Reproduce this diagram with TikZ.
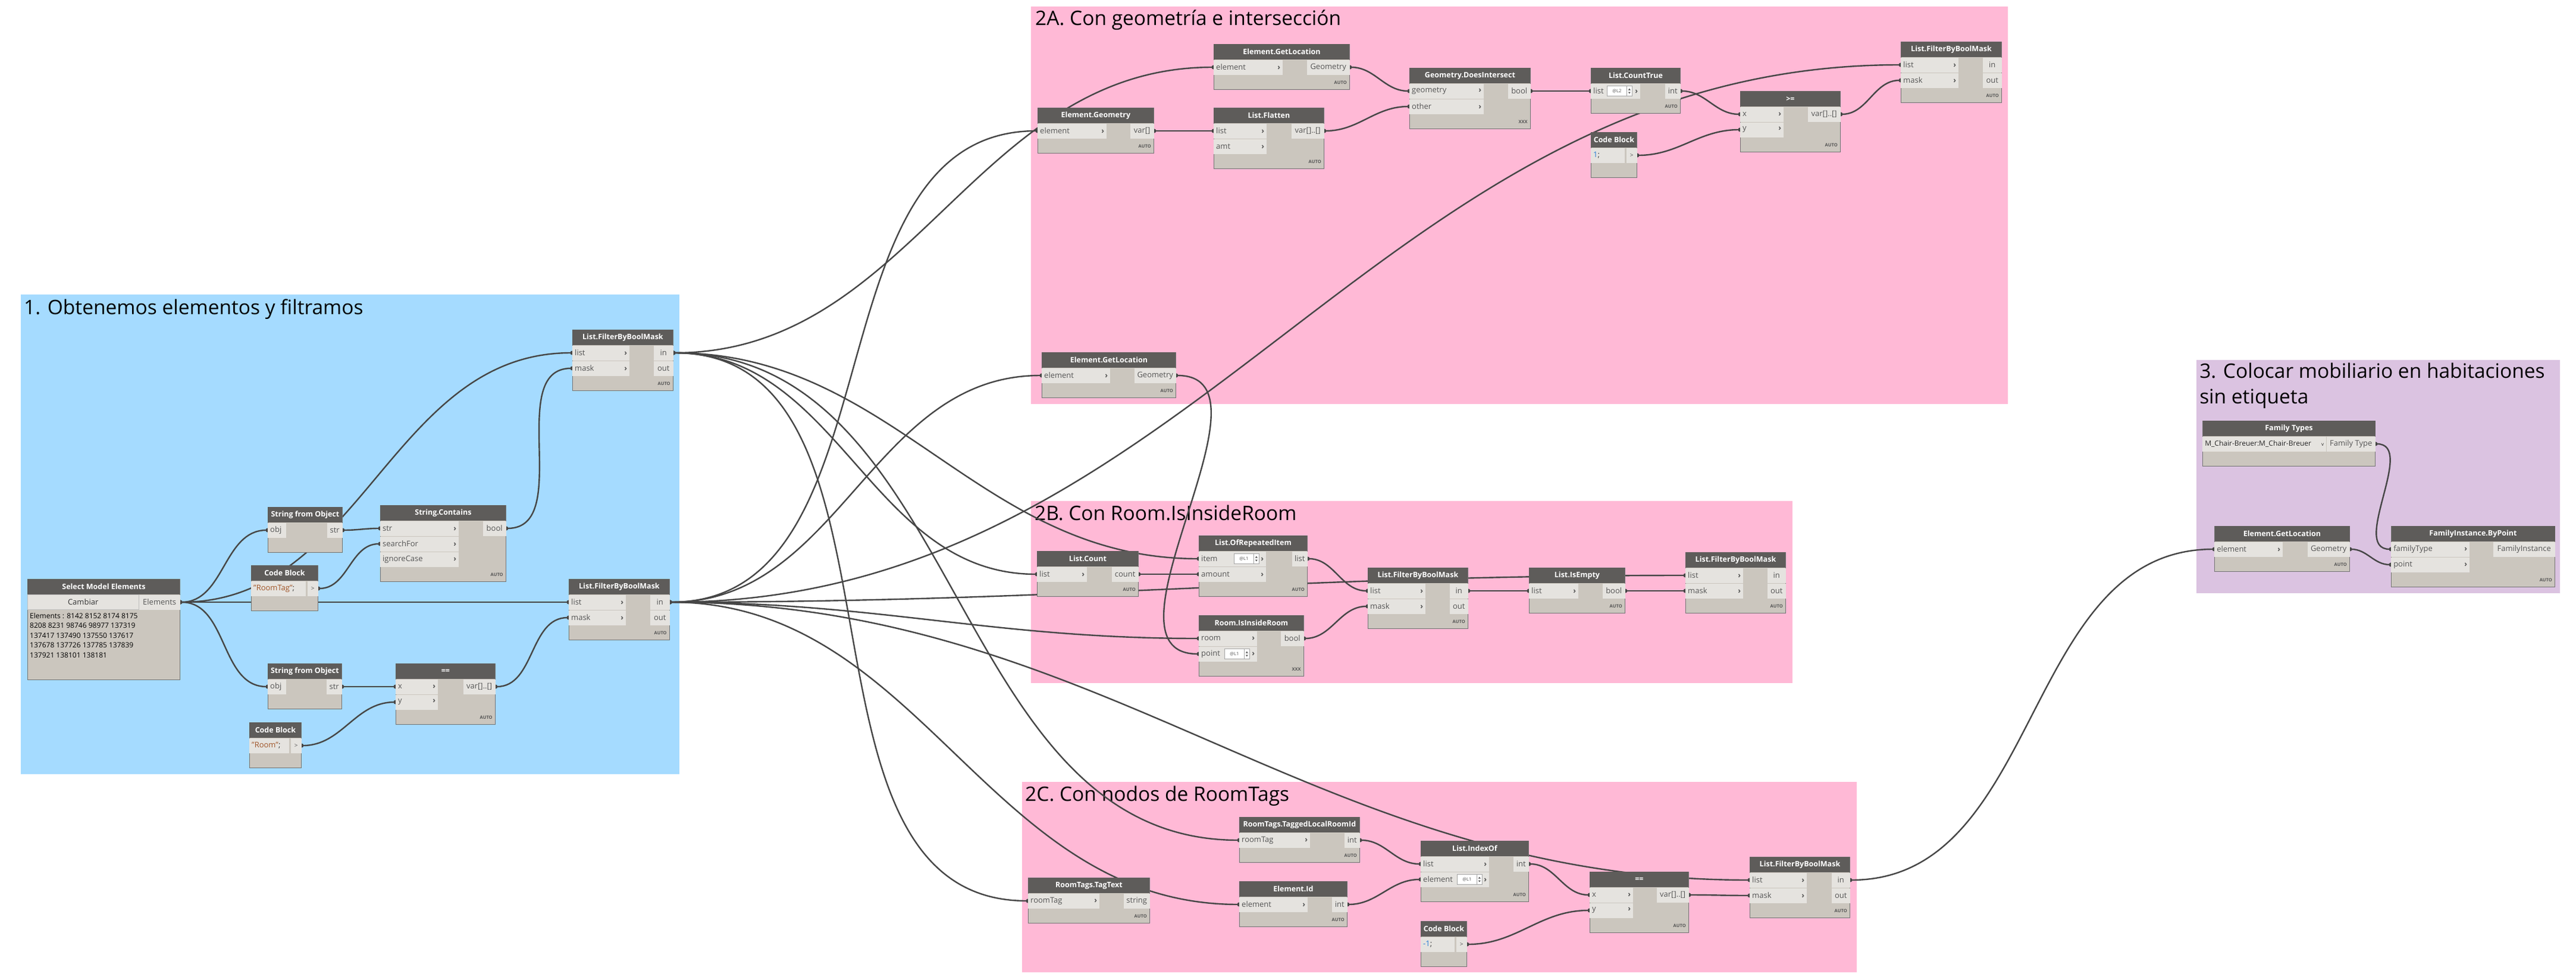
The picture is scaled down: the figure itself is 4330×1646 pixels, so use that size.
\documentclass[tikz,border=0pt]{standalone}
\usepackage{fontspec}
\setmainfont{Open Sans}
\usetikzlibrary{arrows.meta,calc}

\definecolor{grpblue}{RGB}{165,219,255}
\definecolor{grppink}{RGB}{255,185,214}
\definecolor{grplila}{RGB}{219,195,225}
\definecolor{hdrgray}{RGB}{94,92,90}
\definecolor{bodygray}{RGB}{203,198,190}
\definecolor{portgray}{RGB}{229,227,223}
\definecolor{wiregray}{RGB}{70,70,70}
\definecolor{txtgray}{RGB}{85,85,85}
\definecolor{strbrown}{RGB}{160,85,40}
\definecolor{numblue}{RGB}{40,125,215}

\pgfdeclarelayer{groups}
\pgfdeclarelayer{wires}
\pgfsetlayers{groups,wires,main}

\tikzset{
  dbody/.style={draw=black!55, line width=0.9pt, fill=bodygray, anchor=north west, inner sep=0pt},
  dhead/.style={fill=hdrgray, anchor=north, minimum height=26pt, inner sep=0pt, text=white,
    font=\fontsize{12.5}{14}\selectfont\bfseries},
  inrow/.style={fill=portgray, anchor=west, minimum height=25pt, inner xsep=4pt, inner ysep=0pt,
    text=txtgray, align=left, font=\fontsize{13}{15}\selectfont},
  outrow/.style={fill=portgray, anchor=east, minimum height=25pt, minimum width=26pt, inner xsep=4pt,
    inner ysep=0pt, text=txtgray, font=\fontsize{13}{15}\selectfont},
  lacing/.style={anchor=east, inner sep=0pt, text=txtgray, font=\fontsize{7.5}{8}\selectfont\bfseries},
  lvlbox/.style={anchor=west, fill=white, draw=black!35, line width=0.6pt, minimum width=33pt,
    minimum height=17pt, inner sep=0pt, text=txtgray, font=\fontsize{7.5}{8}\selectfont},
  spin/.style={anchor=west, fill=white, draw=black!35, line width=0.6pt, minimum width=9pt,
    minimum height=17pt, inner sep=0pt, path picture={
      \fill[txtgray] ([xshift=-2pt,yshift=1.5pt]path picture bounding box.center) -- ++(4pt,0) -- ++(-2pt,3pt) -- cycle;
      \fill[txtgray] ([xshift=-2pt,yshift=-1.5pt]path picture bounding box.center) -- ++(4pt,0) -- ++(-2pt,-3pt) -- cycle;}},
  grptitle/.style={anchor=base west, inner sep=0pt, align=left, font=\fontsize{33.5}{43}\selectfont},
  wire/.style={draw=wiregray, line width=2.4pt,
    {Circle[length=7pt]}-{Circle[length=7pt]}, shorten <=-3.5pt, shorten >=-3.5pt,
    to path={let \p1=(\tikztostart), \p2=(\tikztotarget),
      \n1={39.15*veclen((\x2-\x1)/100,(\y2-\y1)/100)} in
      .. controls +(\n1,0pt) and +(-\n1,0pt) .. (\tikztotarget) \tikztonodes}}
}

\newcommand{\chev}{\hfill\textbf{›}}
% node body + header
\newcommand{\dyn}[6]{%
  \node[dbody, minimum width=#4pt, minimum height=#5pt] (#1) at (#2,#3) {};
  \node[dhead, minimum width=#4pt] (#1-hd) at (#1.north) {#6};}
% input row: block, row, name, width, label
\newcommand{\inp}[5]{%
  \pgfmathsetmacro\rowtw{#4-8}%
  \node[inrow, text width=\rowtw pt] (#3) at ([yshift={-(13+26*#2)*1pt}]#1.north west) {#5};}
% output row: [opts] block, row, name, label
\newcommand{\outp}[5][]{%
  \node[outrow, #1] (#4) at ([yshift={-(13+26*#3)*1pt}]#2.north east) {#5};}
\newcommand{\lace}[2]{\node[lacing] (#1-lace) at ([xshift=-5pt, yshift=12pt]#1.south east) {#2};}
\newcommand{\lvl}[3]{%
  \node[lvlbox] (#1-lvl) at ([xshift=#2pt]#1.west) {#3};
  \node[spin] (#1-spin) at ([xshift=#2pt+33pt]#1.west) {};}
% code block row: block, width, name, code
\newcommand{\code}[4]{%
  \pgfmathsetmacro\rowtw{#2-28}%
  \node[inrow, text width=\rowtw pt, text=black!80] (#1-code) at ([yshift=-39pt]#1.north west) {#4};
  \node[outrow, minimum width=18pt, inner xsep=0pt, font=\fontsize{10}{12}\selectfont] (#3) at ([yshift=-39pt]#1.north east) {>};}

\begin{document}
\begin{tikzpicture}[x=1pt,y=-1pt]
\useasboundingbox (0,0) rectangle (4330,1646);

\begin{pgfonlayer}{groups}
\fill[white] (0,0) rectangle (4330,1646);
\fill[grpblue] (35,495) rectangle (1142,1301);
\node[grptitle] (t1) at (40,528) {1. Obtenemos elementos y filtramos};
\fill[grppink] (1733,11) rectangle (3375,679);
\node[grptitle] (t2a) at (1740,43) {2A. Con geometría e intersección};
\fill[grppink] (1733,842) rectangle (3013,1148);
\node[grptitle] (t2b) at (1739,874) {2B. Con Room.IsInsideRoom};
\fill[grppink] (1718,1314) rectangle (3121,1634);
\node[grptitle] (t2c) at (1723,1346) {2C. Con nodos de RoomTags};
\fill[grplila] (3692,605) rectangle (4303,997);
\node[grptitle] (t3) at (3697,678) {3. Colocar mobiliario en habitaciones\\sin etiqueta};
\end{pgfonlayer}

% 1. elements and filters
\dyn{sel}{46}{973}{256}{169}{Select Model Elements}
\node[inrow, minimum width=187pt, align=center, draw=black!25, text=black!80] (sel-btn) at ([yshift=-39pt]sel.north west) {Cambiar};
\outp[minimum width=69pt]{sel}{1}{sel-out}{Elements}
\node[anchor=north west, inner sep=0pt, align=left, font=\fontsize{12}{16.5}\selectfont] (sel-ids) at (50,1030)
  {Elements : 8142 8152 8174 8175\\8208 8231 98746 98977 137319\\137417 137490 137550 137617\\137678 137726 137785 137839\\137921 138101 138181};

\dyn{sfoTop}{450}{852}{125}{76}{String from Object}
\inp{sfoTop}{1}{sfoTop-obj}{31}{obj}
\outp{sfoTop}{1}{sfoTop-str}{str}

\dyn{cbTag}{422}{950}{112}{76}{Code Block}
\code{cbTag}{112}{cbTag-out}{\textcolor{strbrown}{"RoomTag"};}

\dyn{contains}{639}{849}{211}{128}{String.Contains}
\inp{contains}{1}{contains-str}{132}{str\chev}
\inp{contains}{2}{contains-search}{132}{searchFor\chev}
\inp{contains}{3}{contains-case}{132}{ignoreCase\chev}
\outp[minimum width=39pt]{contains}{1}{contains-bool}{bool}
\lace{contains}{AUTO}

\dyn{maskTags}{962}{554}{169}{102}{List.FilterByBoolMask}
\inp{maskTags}{1}{maskTags-list}{96}{list\chev}
\inp{maskTags}{2}{maskTags-mask}{96}{mask\chev}
\outp[minimum width=33pt]{maskTags}{1}{maskTags-in}{in}
\outp[minimum width=33pt]{maskTags}{2}{maskTags-out}{out}
\lace{maskTags}{AUTO}

\dyn{maskRooms}{956}{973}{169}{102}{List.FilterByBoolMask}
\inp{maskRooms}{1}{maskRooms-list}{96}{list\chev}
\inp{maskRooms}{2}{maskRooms-mask}{96}{mask\chev}
\outp[minimum width=33pt]{maskRooms}{1}{maskRooms-in}{in}
\outp[minimum width=33pt]{maskRooms}{2}{maskRooms-out}{out}
\lace{maskRooms}{AUTO}

\dyn{sfoBot}{450}{1115}{124}{76}{String from Object}
\inp{sfoBot}{1}{sfoBot-obj}{31}{obj}
\outp{sfoBot}{1}{sfoBot-str}{str}

\dyn{eqRoom}{665}{1115}{167}{102}{==}
\inp{eqRoom}{1}{eqRoom-x}{71}{x\chev}
\inp{eqRoom}{2}{eqRoom-y}{71}{y\chev}
\outp[minimum width=54pt]{eqRoom}{1}{eqRoom-var}{var[]..[]}
\lace{eqRoom}{AUTO}

\dyn{cbRoom}{419}{1214}{87}{76}{Code Block}
\code{cbRoom}{87}{cbRoom-out}{\textcolor{strbrown}{"Room"};}

% 2A. geometry and intersection
\dyn{geom}{1744}{181}{195}{76}{Element.Geometry}
\inp{geom}{1}{geom-el}{116}{element\chev}
\outp[minimum width=40pt]{geom}{1}{geom-var}{var[]}
\lace{geom}{AUTO}

\dyn{locTop}{2040}{74}{228}{76}{Element.GetLocation}
\inp{locTop}{1}{locTop-el}{116}{element\chev}
\outp[minimum width=72pt]{locTop}{1}{locTop-geo}{Geometry}
\lace{locTop}{AUTO}

\dyn{flat}{2040}{181}{185}{102}{List.Flatten}
\inp{flat}{1}{flat-list}{89}{list\chev}
\inp{flat}{2}{flat-amt}{89}{amt\chev}
\outp[minimum width=55pt]{flat}{1}{flat-var}{var[]..[]}
\lace{flat}{AUTO}

\dyn{inter}{2369}{114}{203}{102}{Geometry.DoesIntersect}
\inp{inter}{1}{inter-geo}{125}{geometry\chev}
\inp{inter}{2}{inter-other}{125}{other\chev}
\outp[minimum width=38pt]{inter}{1}{inter-bool}{bool}
\lace{inter}{XXX}

\dyn{ctrue}{2674}{114}{150}{76}{List.CountTrue}
\inp{ctrue}{1}{ctrue-list}{83}{list\chev}
\lvl{ctrue-list}{27}{@L2}
\outp{ctrue}{1}{ctrue-int}{int}
\lace{ctrue}{AUTO}

\dyn{cbOne}{2674}{222}{77}{76}{Code Block}
\code{cbOne}{77}{cbOne-out}{\textcolor{numblue}{1};}

\dyn{geq}{2925}{153}{168}{102}{>=}
\inp{geq}{1}{geq-x}{73}{x\chev}
\inp{geq}{2}{geq-y}{73}{y\chev}
\outp[minimum width=55pt]{geq}{1}{geq-var}{var[]..[]}
\lace{geq}{AUTO}

\dyn{maskA}{3195}{70}{169}{102}{List.FilterByBoolMask}
\inp{maskA}{1}{maskA-list}{97}{list\chev}
\inp{maskA}{2}{maskA-mask}{97}{mask\chev}
\outp[minimum width=32pt]{maskA}{1}{maskA-in}{in}
\outp[minimum width=32pt]{maskA}{2}{maskA-out}{out}
\lace{maskA}{AUTO}

\dyn{locRoom}{1751}{592}{225}{76}{Element.GetLocation}
\inp{locRoom}{1}{locRoom-el}{115}{element\chev}
\outp[minimum width=70pt]{locRoom}{1}{locRoom-geo}{Geometry}
\lace{locRoom}{AUTO}

% 2B. Room.IsInsideRoom
\dyn{cnt}{1743}{926}{170}{76}{List.Count}
\inp{cnt}{1}{cnt-list}{84}{list\chev}
\outp[minimum width=45pt]{cnt}{1}{cnt-count}{count}
\lace{cnt}{AUTO}

\dyn{rep}{2015}{900}{182}{102}{List.OfRepeatedItem}
\inp{rep}{1}{rep-item}{113}{item\chev}
\lvl{rep-item}{59}{@L1}
\inp{rep}{2}{rep-amount}{113}{amount\chev}
\outp{rep}{1}{rep-list}{list}
\lace{rep}{AUTO}

\dyn{inside}{2015}{1034}{176}{102}{Room.IsInsideRoom}
\inp{inside}{1}{inside-room}{98}{room\chev}
\inp{inside}{2}{inside-point}{98}{point\chev}
\lvl{inside-point}{43}{@L1}
\outp[minimum width=39pt]{inside}{1}{inside-bool}{bool}
\lace{inside}{XXX}

\dyn{maskB}{2299}{954}{168}{102}{List.FilterByBoolMask}
\inp{maskB}{1}{maskB-list}{97}{list\chev}
\inp{maskB}{2}{maskB-mask}{97}{mask\chev}
\outp[minimum width=31pt]{maskB}{1}{maskB-in}{in}
\outp[minimum width=31pt]{maskB}{2}{maskB-out}{out}
\lace{maskB}{AUTO}

\dyn{empty}{2570}{954}{161}{76}{List.IsEmpty}
\inp{empty}{1}{empty-list}{83}{list\chev}
\outp[minimum width=38pt]{empty}{1}{empty-bool}{bool}
\lace{empty}{AUTO}

\dyn{maskB2}{2833}{928}{168}{102}{List.FilterByBoolMask}
\inp{maskB2}{1}{maskB2-list}{97}{list\chev}
\inp{maskB2}{2}{maskB2-mask}{97}{mask\chev}
\outp[minimum width=31pt]{maskB2}{1}{maskB2-in}{in}
\outp[minimum width=31pt]{maskB2}{2}{maskB2-out}{out}
\lace{maskB2}{AUTO}

% 2C. RoomTags nodes
\dyn{tagtxt}{1728}{1475}{204}{76}{RoomTags.TagText}
\inp{tagtxt}{1}{tagtxt-tag}{120}{roomTag\chev}
\outp[minimum width=44pt]{tagtxt}{1}{tagtxt-str}{string}
\lace{tagtxt}{AUTO}

\dyn{tagid}{2083}{1373}{202}{76}{RoomTags.TaggedLocalRoomId}
\inp{tagid}{1}{tagid-tag}{119}{roomTag\chev}
\outp{tagid}{1}{tagid-int}{int}
\lace{tagid}{AUTO}

\dyn{eid}{2083}{1481}{181}{76}{Element.Id}
\inp{eid}{1}{eid-el}{115}{element\chev}
\outp{eid}{1}{eid-int}{int}
\lace{eid}{AUTO}

\dyn{idx}{2388}{1413}{181}{102}{List.IndexOf}
\inp{idx}{1}{idx-list}{115}{list\chev}
\inp{idx}{2}{idx-el}{115}{element\chev}
\lvl{idx-el}{61}{@L1}
\outp{idx}{1}{idx-int}{int}
\lace{idx}{AUTO}

\dyn{cbMinus}{2388}{1548}{77}{76}{Code Block}
\code{cbMinus}{77}{cbMinus-out}{\textcolor{numblue}{-1};}

\dyn{eqTag}{2672}{1465}{166}{102}{==}
\inp{eqTag}{1}{eqTag-x}{73}{x\chev}
\inp{eqTag}{2}{eqTag-y}{73}{y\chev}
\outp[minimum width=54pt]{eqTag}{1}{eqTag-var}{var[]..[]}
\lace{eqTag}{AUTO}

\dyn{maskC}{2941}{1440}{168}{102}{List.FilterByBoolMask}
\inp{maskC}{1}{maskC-list}{96}{list\chev}
\inp{maskC}{2}{maskC-mask}{96}{mask\chev}
\outp[minimum width=31pt]{maskC}{1}{maskC-in}{in}
\outp[minimum width=31pt]{maskC}{2}{maskC-out}{out}
\lace{maskC}{AUTO}

% 3. furniture in untagged rooms
\dyn{famtypes}{3702}{707}{290}{76}{Family Types}
\node[inrow, text width=200pt, text=black!85, font=\fontsize{12}{14}\selectfont] (famtypes-sel) at ([yshift=-39pt]famtypes.north west)
  {M\_Chair-Breuer:M\_Chair-Breuer\hfill{\fontsize{8}{8}\selectfont v}};
\outp[minimum width=82pt]{famtypes}{1}{famtypes-out}{Family Type}

\dyn{locC}{3722}{884}{227}{76}{Element.GetLocation}
\inp{locC}{1}{locC-el}{115}{element\chev}
\outp[minimum width=71pt]{locC}{1}{locC-geo}{Geometry}
\lace{locC}{AUTO}

\dyn{place}{4019}{884}{275}{102}{FamilyInstance.ByPoint}
\inp{place}{1}{place-type}{132}{familyType\chev}
\inp{place}{2}{place-point}{132}{point\chev}
\outp[minimum width=104pt]{place}{1}{place-out}{FamilyInstance}
\lace{place}{AUTO}

\begin{pgfonlayer}{wires}
% group 1
\draw[wire] (sel-out.east) to (sfoTop-obj.west);
\draw[wire] (sel-out.east) to (maskTags-list.west);
\draw[wire] (sel-out.east) to (maskRooms-list.west);
\draw[wire] (sel-out.east) to (sfoBot-obj.west);
\draw[wire] (sfoTop-str.east) to (contains-str.west);
\draw[wire] (cbTag-out.east) to (contains-search.west);
\draw[wire] (contains-bool.east) to (maskTags-mask.west);
\draw[wire] (sfoBot-str.east) to (eqRoom-x.west);
\draw[wire] (cbRoom-out.east) to (eqRoom-y.west);
\draw[wire] (eqRoom-var.east) to (maskRooms-mask.west);
% tags
\draw[wire] (maskTags-in.east) to (locTop-el.west);
\draw[wire] (maskTags-in.east) to (cnt-list.west);
\draw[wire] (maskTags-in.east) to (rep-item.west);
\draw[wire] (maskTags-in.east) to (tagtxt-tag.west);
\draw[wire] (maskTags-in.east) to (tagid-tag.west);
% rooms
\draw[wire] (maskRooms-in.east) to (geom-el.west);
\draw[wire] (maskRooms-in.east) to (locRoom-el.west);
\draw[wire] (maskRooms-in.east) to (maskA-list.west);
\draw[wire] (maskRooms-in.east) to (maskB2-list.west);
\draw[wire] (maskRooms-in.east) to (inside-room.west);
\draw[wire] (maskRooms-in.east) to (eid-el.west);
\draw[wire] (maskRooms-in.east) to (maskC-list.west);
% 2A
\draw[wire] (locTop-geo.east) to (inter-geo.west);
\draw[wire] (geom-var.east) to (flat-list.west);
\draw[wire] (flat-var.east) to (inter-other.west);
\draw[wire] (inter-bool.east) to (ctrue-list.west);
\draw[wire] (ctrue-int.east) to (geq-x.west);
\draw[wire] (cbOne-out.east) to (geq-y.west);
\draw[wire] (geq-var.east) to (maskA-mask.west);
\draw[wire] (locRoom-geo.east) to (inside-point.west);
% 2B
\draw[wire] (cnt-count.east) to (rep-amount.west);
\draw[wire] (rep-list.east) to (maskB-list.west);
\draw[wire] (inside-bool.east) to (maskB-mask.west);
\draw[wire] (maskB-in.east) to (empty-list.west);
\draw[wire] (empty-bool.east) to (maskB2-mask.west);
% 2C
\draw[wire] (tagid-int.east) to (idx-list.west);
\draw[wire] (eid-int.east) to (idx-el.west);
\draw[wire] (idx-int.east) to (eqTag-x.west);
\draw[wire] (cbMinus-out.east) to (eqTag-y.west);
\draw[wire] (eqTag-var.east) to (maskC-mask.west);
\draw[wire] (maskC-in.east) to (locC-el.west);
% 3
\draw[wire] (famtypes-out.east) to (place-type.west);
\draw[wire] (locC-geo.east) to (place-point.west);
\end{pgfonlayer}
\end{tikzpicture}
\end{document}
